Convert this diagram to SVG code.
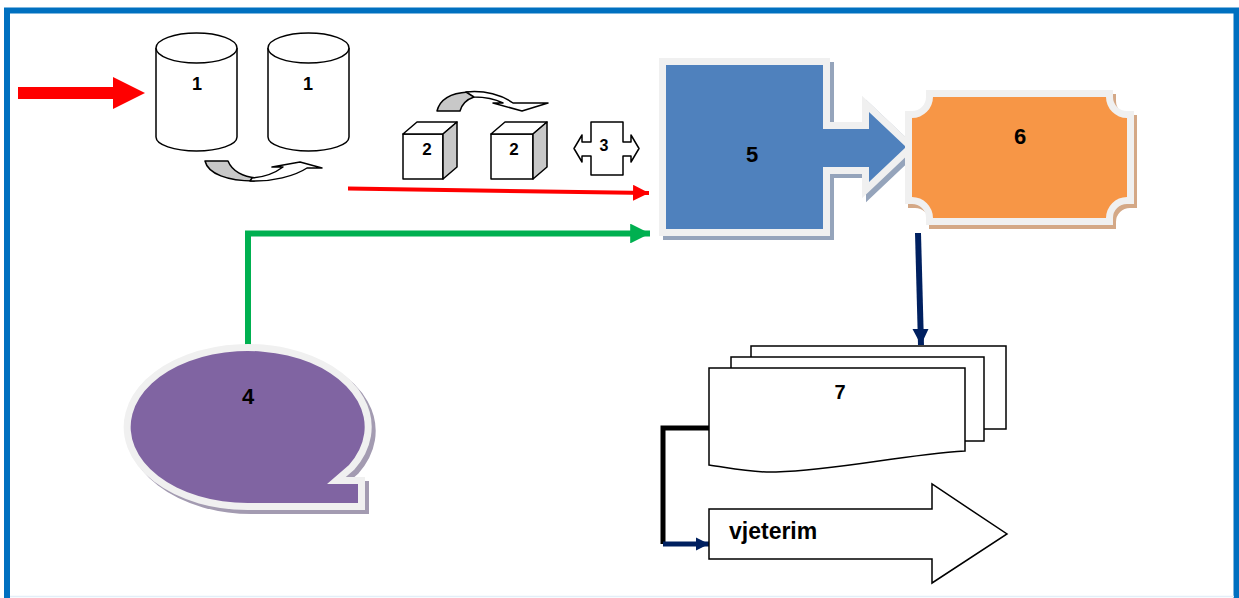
<svg xmlns="http://www.w3.org/2000/svg" width="1239" height="598" viewBox="0 0 1239 598">
<style>
.lbl{font-family:"Liberation Sans",Arial,sans-serif;font-weight:bold;fill:#000;text-anchor:middle}
.ol{fill:#fff;stroke:#000;stroke-width:1.5}
.cube{fill:#fff;stroke:#000;stroke-width:1.5;stroke-linejoin:round}
.side{fill:#c8c8c8;stroke:#000;stroke-width:1.5;stroke-linejoin:round}
.brd{stroke:#f0f0f0;stroke-width:14;paint-order:stroke;stroke-linejoin:miter}
</style>
<defs>
<marker id="ah-red" viewBox="0 0 10 10" refX="10" refY="5" markerWidth="4" markerHeight="4" markerUnits="strokeWidth" orient="auto"><path d="M0,0 L10,5 L0,10 Z" fill="#ff0000"/></marker>
<marker id="ah-green" viewBox="0 0 10 10" refX="10" refY="5" markerWidth="3.3" markerHeight="3.3" markerUnits="strokeWidth" orient="auto"><path d="M0,0 L10,5 L0,10 Z" fill="#00b050"/></marker>
<marker id="ah-navy" viewBox="0 0 10 10" refX="10" refY="5" markerWidth="2.7" markerHeight="2.7" markerUnits="strokeWidth" orient="auto"><path d="M0,0 L10,5 L0,10 Z" fill="#002060"/></marker>
</defs>
<rect width="1239" height="598" fill="#fff"/>
<!-- frame -->
<path d="M7,600 V10.5 H1236.5 V600" fill="none" stroke="#0070C0" stroke-width="6"/>
<line x1="10" y1="596.5" x2="1234" y2="596.5" stroke="#e3eef8" stroke-width="1.5"/>

<g id="connectors">
  <polygon points="18,87 113,87 113,77 145,93 113,109 113,99 18,99" fill="#ff0000"/>
  <line x1="348" y1="188.5" x2="649" y2="193" stroke="#ff0000" stroke-width="4" marker-end="url(#ah-red)"/>
  <polyline points="248,345 248,233.5 650,233.5" fill="none" stroke="#00b050" stroke-width="6" marker-end="url(#ah-green)"/>
  <line x1="918" y1="233" x2="921" y2="345" stroke="#002060" stroke-width="6" marker-end="url(#ah-navy)"/>
  <polyline points="709,428 663,428 663,544" fill="none" stroke="#000" stroke-width="5"/>
  <line x1="663" y1="544" x2="709" y2="544" stroke="#002060" stroke-width="5" marker-end="url(#ah-navy)"/>
</g>

<g id="node-1a">
  <path class="ol" d="M156,48 V137 A40.5,14 0 0 0 237,137 V48"/>
  <ellipse class="ol" cx="196.5" cy="48" rx="40.5" ry="15"/>
  <text class="lbl" x="197" y="90" font-size="18">1</text>
</g>
<g id="node-1b">
  <path class="ol" d="M268,48 V137 A40.5,14 0 0 0 349,137 V48"/>
  <ellipse class="ol" cx="308.5" cy="48" rx="40.5" ry="15"/>
  <text class="lbl" x="308" y="90" font-size="18">1</text>
</g>
<g id="curved-arrow-1">
  <path class="side" d="M205,161 L228,161 C232,171 243,177 257,178 L254,181 C228,181 208,174 205,161 Z"/>
  <path class="cube" d="M250,181 C272,182 295,176 307,168 L322,168 L300,162 L272,167 L283,167 C275,173 265,177 252,178 Z"/>
</g>
<g id="curved-arrow-2">
  <path class="side" d="M437,111 C440,99 452,93 468,92 L474,97 C468,99 462,104 460,111 Z"/>
  <path class="cube" d="M466,92 C485,90 502,95 513,103 L548,103 L522,111 L493,103 L503,103 C495,99 485,97 474,97 Z"/>
</g>
<g id="node-2a">
  <rect class="cube" x="403" y="134" width="40" height="45"/>
  <path class="cube" d="M403,134 L417,122 L457,122 L443,134 Z"/>
  <path class="side" d="M443,134 L457,122 L457,167 L443,179 Z"/>
  <text class="lbl" x="427" y="155" font-size="17">2</text>
</g>
<g id="node-2b">
  <rect class="cube" x="491" y="134" width="42" height="45"/>
  <path class="cube" d="M491,134 L505,122 L547,122 L533,134 Z"/>
  <path class="side" d="M533,134 L547,122 L547,167 L533,179 Z"/>
  <text class="lbl" x="514" y="155" font-size="17">2</text>
</g>
<g id="node-3">
  <path class="cube" d="M591,122 H623 V142 H631 V135 L639,148.5 L631,162 V156 H623 V175 H591 V156 H582 V162 L574,148.5 L582,135 V142 H591 Z"/>
  <text class="lbl" x="604" y="151" font-size="16">3</text>
</g>

<g id="node-5">
  <path transform="translate(4,4)" d="M666,65 H823 V129 H869 V112 L906,147 L869,182 V167 H823 V229 H666 Z" fill="#95a4bb" stroke="#95a4bb" stroke-width="14"/>
  <path class="brd" d="M666,65 H823 V129 H869 V112 L906,147 L869,182 V167 H823 V229 H666 Z" fill="#4f81bd"/>
  <text class="lbl" x="752" y="162" font-size="22">5</text>
</g>
<g id="node-6">
  <path transform="translate(3,4)" d="M933,97 H1106 A21,21 0 0 0 1127,118 V197 A21,21 0 0 0 1106,218 H933 A21,21 0 0 0 912,197 V118 A21,21 0 0 0 933,97 Z" fill="#d4a886" stroke="#d4a886" stroke-width="14"/>
  <path class="brd" d="M933,97 H1106 A21,21 0 0 0 1127,118 V197 A21,21 0 0 0 1106,218 H933 A21,21 0 0 0 912,197 V118 A21,21 0 0 0 933,97 Z" fill="#f79646"/>
  <text class="lbl" x="1020" y="144" font-size="22">6</text>
</g>
<g id="node-4">
  <path transform="translate(4,4)" d="M349,465 L327,484 H358 V503 H248 A117,76 0 1 1 349,465 Z" fill="#a39bb1" stroke="#a39bb1" stroke-width="14"/>
  <path class="brd" d="M349,465 L327,484 H358 V503 H248 A117,76 0 1 1 349,465 Z" fill="#8064a2"/>
  <text class="lbl" x="248" y="404" font-size="22">4</text>
</g>
<g id="node-7">
  <rect class="ol" x="751" y="346" width="255" height="83"/>
  <rect class="ol" x="731" y="357" width="253" height="84"/>
  <path class="ol" d="M709,368 H965 V451 C900,455 840,470 776,472 C750,473 730,468 709,465 Z"/>
  <text class="lbl" x="840" y="399" font-size="20">7</text>
</g>
<g id="node-vjeterim">
  <path class="ol" d="M709,509 H932 V484 L1007,534 L932,583 V559 H709 Z"/>
  <text class="lbl" x="729" y="539" font-size="23" style="text-anchor:start">vjeterim</text>
</g>
</svg>
